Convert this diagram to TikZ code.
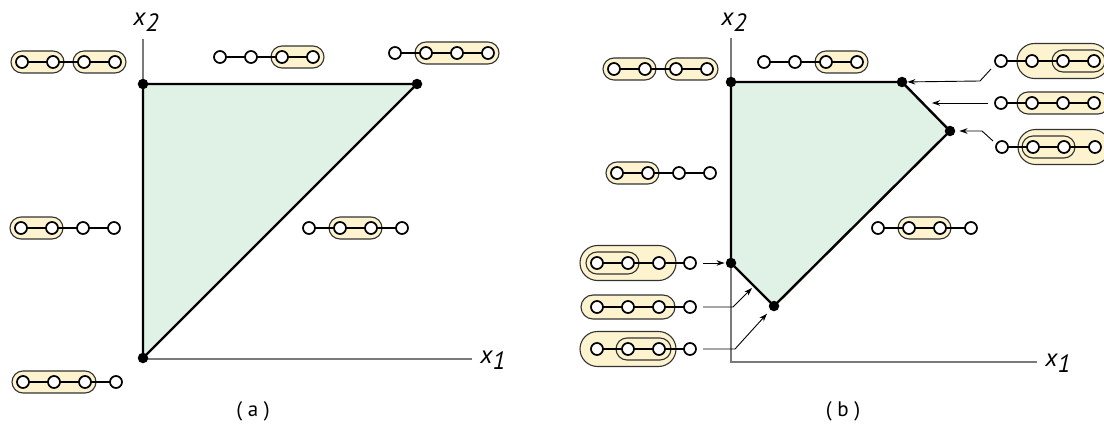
\documentclass[tikz,border=0pt]{standalone}
\usepackage{fontspec}
\setmainfont{PT Sans}
\usetikzlibrary{arrows.meta}
\definecolor{regfill}{HTML}{E0F1E6}
\definecolor{capfill}{HTML}{FDF4CF}
\definecolor{axisgray}{HTML}{7A7A7A}
\pgfdeclarelayer{back}
\pgfdeclarelayer{caps}
\pgfdeclarelayer{links}
\pgfsetlayers{back,caps,links,main}
\tikzset{
 axisline/.style={draw=axisgray, line width=1.3pt},
 region/.style={fill=regfill, draw=black, line width=2.4pt, line join=round},
 vdot/.style={circle, fill=black, inner sep=0pt, minimum size=10.5pt},
 cnode/.style={circle, draw=black, fill=white, line width=1.7pt, inner sep=0pt, minimum size=12pt},
 clink/.style={draw=black, line width=1.6pt},
 capsule/.style={fill=capfill, draw=black!80, line width=1.1pt},
 ptr/.style={draw=black, line width=0.9pt, -{Stealth[length=8pt,width=5.5pt]}},
 lbl/.style={font=\fontsize{25}{27}\selectfont\itshape, inner sep=0pt},
 captxt/.style={font=\fontsize{21}{23}\selectfont, inner sep=0pt},
}
% chain of four circles: name, x of first, y
\newcommand{\chainat}[3]{%
  \foreach \k in {1,2,3,4}{\node[cnode] (#1-\k) at ({#2+31*(\k-1)},#3) {};}
  \begin{pgfonlayer}{links}
  \draw[clink] (#1-1.center) -- (#1-2.center) -- (#1-3.center) -- (#1-4.center);
  \end{pgfonlayer}}
% capsule: chain name, first index, last index, horizontal pad, half height
\newcommand{\capsl}[5]{%
  \begin{pgfonlayer}{caps}
  \draw[capsule, rounded corners=#5pt] ([shift={(-#4pt,#5pt)}]#1-#2.center) rectangle ([shift={(#4pt,-#5pt)}]#1-#3.center);
  \end{pgfonlayer}}
\begin{document}
\begin{tikzpicture}[x=1pt,y=-1pt]
\useasboundingbox (0,0) rectangle (1104,428);
\clip (0,0) rectangle (1104,428);

% ---------- panel (a) ----------
\coordinate (oa) at (143,359);
\coordinate (ya) at (143,39);
\coordinate (xa) at (472,359);
\begin{pgfonlayer}{back}
\draw[axisline] (ya) -- (oa) -- (xa);
\end{pgfonlayer}
\node[vdot] (ta1) at (143,84) {};
\node[vdot] (ta2) at (417,84) {};
\node[vdot] (ta3) at (143,358) {};
\begin{pgfonlayer}{back}
\draw[region] (ta1.center) -- (ta2.center) -- (ta3.center) -- cycle;
\end{pgfonlayer}
\node[lbl] (x2a) at (146,22) {x\raisebox{-6pt}{2}};
\node[lbl] (x1a) at (493,360) {x\raisebox{-6pt}{1}};
\node[captxt] (capa) at (253,411) {( a )};

\chainat{a1}{22}{62}  \capsl{a1}{1}{2}{11}{11} \capsl{a1}{3}{4}{11}{11}
\chainat{a2}{220}{57} \capsl{a2}{3}{4}{11}{11}
\chainat{a3}{395}{53} \capsl{a3}{2}{4}{11}{11}
\chainat{a4}{21}{228} \capsl{a4}{1}{2}{11}{11}
\chainat{a5}{309}{228} \capsl{a5}{2}{3}{11}{11}
\chainat{a6}{23}{382} \capsl{a6}{1}{3}{11}{11}

% ---------- panel (b) ----------
\coordinate (ob) at (731,362);
\coordinate (yb) at (731,38);
\coordinate (xb) at (1037,362);
\begin{pgfonlayer}{back}
\draw[axisline] (yb) -- (ob) -- (xb);
\end{pgfonlayer}
\node[vdot] (vb1) at (731,82) {};
\node[vdot] (vb2) at (902,82) {};
\node[vdot] (vb3) at (950,131) {};
\node[vdot] (vb4) at (774,306) {};
\node[vdot] (vb5) at (731,263) {};
\begin{pgfonlayer}{back}
\draw[region] (vb1.center) -- (vb2.center) -- (vb3.center) -- (vb4.center) -- (vb5.center) -- cycle;
\end{pgfonlayer}
\node[lbl] (x2b) at (734,22) {x\raisebox{-6pt}{2}};
\node[lbl] (x1b) at (1058,363) {x\raisebox{-6pt}{1}};
\node[captxt] (capb) at (843,411) {( b )};

\chainat{b1}{614}{69}  \capsl{b1}{1}{2}{11}{11} \capsl{b1}{3}{4}{11}{11}
\chainat{b2}{764}{62}  \capsl{b2}{3}{4}{11}{11}
\chainat{b3}{617}{173} \capsl{b3}{1}{2}{11}{11}
\chainat{b4}{1001}{61} \capsl{b4}{2}{4}{15}{17.5} \capsl{b4}{3}{4}{11}{11}
\chainat{b5}{1001}{103} \capsl{b5}{2}{4}{15}{11}
\chainat{b6}{1002}{147} \capsl{b6}{2}{4}{15}{17.5} \capsl{b6}{2}{3}{11}{11}
\chainat{b7}{878}{228} \capsl{b7}{2}{3}{11}{11}
\chainat{b8}{597}{263} \capsl{b8}{1}{3}{17}{17.5} \capsl{b8}{1}{2}{11}{11}
\chainat{b9}{597}{307} \capsl{b9}{1}{3}{16}{12}
\chainat{b10}{597}{349} \capsl{b10}{1}{3}{17}{17.5} \capsl{b10}{2}{3}{12}{11}

% pointers
\coordinate (s4) at (991,69);  \coordinate (k4) at (980,81);
\draw[ptr] (s4) -- (k4) -- (vb2);
\coordinate (s5) at (988,103); \coordinate (e5) at (932,103);
\draw[ptr] (s5) -- (e5);
\coordinate (s6) at (993,141); \coordinate (k6) at (982,131);
\draw[ptr, shorten >=4pt] (s6) -- (k6) -- (vb3);
\coordinate (s8) at (703,263);
\draw[ptr, shorten >=1pt] (s8) -- (vb5);
\coordinate (s9) at (703,307); \coordinate (k9) at (733,307); \coordinate (e9) at (752,288);
\draw[ptr] (s9) -- (k9) -- (e9);
\coordinate (s10) at (703,349); \coordinate (k10) at (735,349);
\draw[ptr, shorten >=5pt] (s10) -- (k10) -- (vb4);
\end{tikzpicture}
\end{document}
